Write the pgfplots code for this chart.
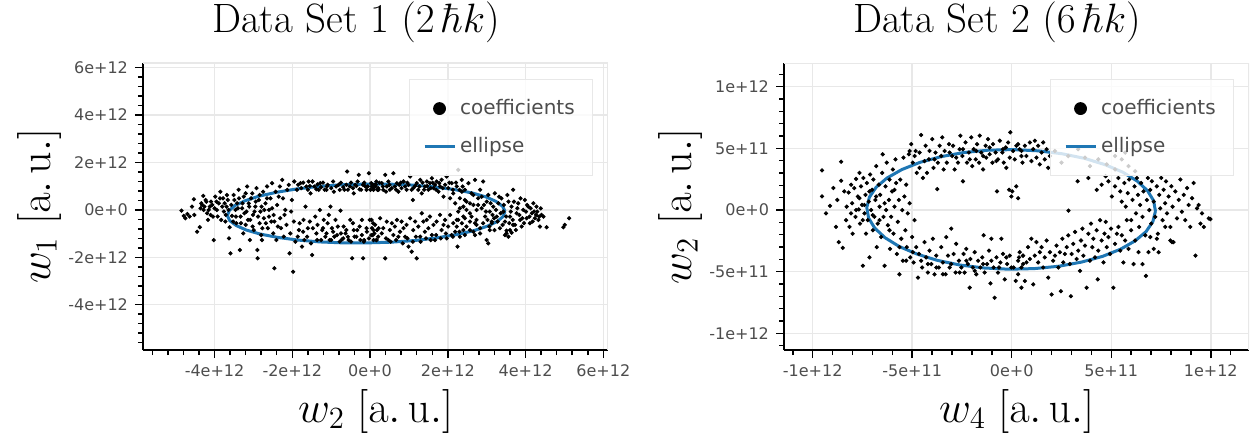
\documentclass[border=0pt]{standalone}
\usepackage{fix-cm}
\usepackage[no-math]{fontspec}
\usepackage{pgfplots}
\pgfplotsset{compat=1.18}
\newfontfamily\dejavu{DejaVu Sans}
\definecolor{ellblue}{RGB}{31,119,180}
\definecolor{tickgray}{RGB}{77,77,77}
\definecolor{gridgray}{RGB}{232,232,232}

\pgfplotsset{
  panel/.style={
    scale only axis, width=232.5pt, height=143.5pt,
    axis x line*=bottom, axis y line*=left,
    axis line style={line width=0.75pt, black},
    tick align=outside,
    major tick length=4pt, minor tick length=2.5pt,
    every tick/.append style={black, line width=0.75pt},
    grid=major, major grid style={gridgray, line width=0.75pt},
    ticklabel style={font=\dejavu\fontsize{8}{9.6}\selectfont, text=tickgray},
    every axis title shift=0pt,
    title style={font=\fontsize{20.5}{24}\selectfont, at={(0.458,1.108)}, anchor=base},
    xlabel style={font=\fontsize{22}{26}\selectfont, at={(axis description cs:0.5,-0.251)}, anchor=base},
    ylabel style={font=\fontsize{22}{26}\selectfont, at={(axis description cs:-0.2,0.5)}, anchor=base},
    legend cell align=left,
    legend style={at={(0.968,0.944)}, anchor=north east, draw=gridgray,
      fill=white, fill opacity=0.8, text opacity=1,
      font=\dejavu\fontsize{10}{12}\selectfont, text=tickgray,
      inner xsep=7pt, inner ysep=8pt, row sep=6pt},
  },
  pts/.style={only marks, mark=*, mark size=0.85pt, black,
    legend image code/.code={\fill[black, fill opacity=1] (7.5pt,0pt) circle (3pt);}},
  ell/.style={no markers, ellblue, line width=1.5pt, line join=round,
    legend image code/.code={\draw[ellblue, draw opacity=1, line width=1.5pt] (0pt,0pt) -- (15pt,0pt);}},
}

\begin{document}
\begin{tikzpicture}
\useasboundingbox (-71.5pt,-43pt) rectangle (558.5pt,175pt);

% ---- Data Set 1 ----
\begin{axis}[panel,
  at={(0pt,0pt)}, anchor=south west,
  xmin=-5.84, xmax=6.12, ymin=-5.91, ymax=6.20,
  xtick={-4,-2,0,2,4,6}, xticklabels={-4e+12,-2e+12,0e+0,2e+12,4e+12,6e+12},
  ytick={-4,-2,0,2,4,6}, yticklabels={-4e+12,-2e+12,0e+0,2e+12,4e+12,6e+12},
  minor xtick={-5.6,-5.2,...,6.0}, minor ytick={-5.6,-5.2,...,6.0},
  title={Data Set 1 $(2\,\hbar k)$},
  xlabel={$w_2\;[\mathrm{a.\,u.}]$},
  ylabel={$w_1\;[\mathrm{a.\,u.}]$},
]
\addplot[pts] coordinates {
(-4.85,-0.03) (-4.79,-0.25) (-4.75,-0.35) (-4.70,-0.17) (-4.64,-0.28) (-4.58,0.14) (-4.52,-0.21) (-4.53,0.45)
(-4.45,-0.92) (-4.38,-0.73) (-4.36,0.07) (-4.32,0.21) (-4.29,0.59) (-4.28,0) (-4.23,0.42) (-4.19,-0.14)
(-4.17,-0.42) (-4.12,0.14) (-4.09,0.35) (-4.04,-0.28) (-4.02,-1.27) (-3.98,0.56) (-3.94,0) (-3.89,0.28)
(-3.85,0.77) (-3.83,-0.42) (-3.78,0.49) (-3.76,-0.07) (-3.72,-0.49) (-3.69,0.14) (-3.66,0.42) (-3.63,-1.20)
(-3.59,-1.83) (-3.61,-0.73) (-3.55,-0.25) (-3.51,0.63) (-3.46,0) (-3.44,-0.56) (-3.42,0.28) (-3.38,0.85)
(-3.35,-1.69) (-3.33,-0.28) (-3.29,0.07) (-3.26,-0.99) (-3.25,0.56) (-3.20,-0.63) (-3.18,-0.07) (-3.16,0.99)
(-3.12,0.28) (-3.09,-1.27) (-3.08,-0.42) (-3.03,0.70) (-3.01,-0.21) (-2.99,-0.85) (-2.95,0.14) (-2.92,0.92)
(-2.90,-1.69) (-2.89,-2.04) (-2.86,0.42) (-2.84,-0.56) (-2.82,-0.07) (-2.80,-1.06) (-2.78,-1.27) (-2.75,0.77)
(-2.73,-0.35) (-2.69,0.28) (-2.65,0.99) (-2.63,-0.77) (-2.60,0) (-2.56,0.49) (-2.54,-0.49) (-2.52,1.13)
(-2.49,-0.99) (-2.48,-0.21) (-2.43,0.77) (-2.41,-1.27) (-2.39,0.21) (-2.37,-0.70) (-2.32,0.99) (-2.31,-0.35)
(-2.26,1.27) (-2.24,0.49) (-2.22,-1.13) (-2.18,0) (-2.15,-0.63) (-2.13,0.85) (-2.09,1.06) (-2.07,-1.83)
(-2.05,-0.99) (-2.03,-0.07) (-2.01,0.42) (-1.98,-2.61) (-1.96,-0.49) (-1.95,1.20) (-1.92,-1.34) (-1.88,0.85)
(-1.83,-0.85) (-1.79,1.13) (-1.75,-1.55) (-1.71,-0.42) (-1.66,0.14) (-1.64,0.99) (-1.62,-1.13) (-1.58,1.20)
(-1.53,0.70) (-1.49,-1.90) (-1.47,-0.77) (-1.43,0.99) (-1.41,-0.28) (-1.36,-1.27) (-1.32,0.85) (-1.29,0)
(-1.28,1.13) (-1.23,-0.85) (-1.19,-0.42) (-1.17,0.85) (-1.15,-1.13) (-1.11,0.99) (-1.06,-0.21) (-1.04,-1.27)
(-1.02,0.14) (-0.98,-0.77) (-0.93,0.77) (-0.89,-0.42) (-0.85,-1.06) (-0.81,1.06) (-0.76,-0.03) (-0.72,-1.24)
(-0.68,-0.70) (-0.66,0.85) (-0.63,-0.99) (-0.59,1.62) (-0.55,-1.27) (-0.52,0.99) (-0.51,-0.42) (-0.46,-2.04)
(-0.44,-0.56) (-0.42,0.70) (-0.40,-1.13) (-0.38,1.06) (-0.33,-0.85) (-0.29,1.48) (-0.25,-1.27) (-0.23,0.85)
(-0.21,-0.42) (-0.18,-2.04) (-0.16,-1.34) (-0.12,0.99) (-0.08,-0.92) (-0.03,1.55) (-0.01,-0.42) (0.01,0.85)
(0.05,-0.77) (0.09,-1.27) (0.14,0.99) (0.18,-0.85) (0.22,0.85) (-2.46,-2.46)
(0.04,0.99) (0.09,0.85) (0.15,1.06) (0.21,0.92) (0.30,1.13) (0.34,0.85) (0.39,1.48) (0.43,0.99)
(0.47,1.20) (0.51,0.85) (0.60,1.55) (0.64,0.99) (0.69,1.13) (0.73,0.77) (0.81,0.92) (0.86,1.20)
(0.94,0.85) (0.99,1.06) (1.03,1.41) (1.10,0.42) (1.11,0.92) (1.20,1.13) (1.24,0.85) (1.29,1.27)
(1.33,0.70) (1.41,0.99) (1.46,1.20) (1.50,0.85) (1.54,1.13) (1.59,1.34) (1.63,0.92) (1.67,1.06)
(1.71,1.20) (1.76,0.77) (1.80,0.99) (1.84,1.27) (1.89,0.56) (1.97,1.41) (2.01,0.92) (2.06,0.49)
(2.10,1.13) (2.14,0.70) (2.19,0.28) (2.23,0.99) (2.27,1.69) (2.31,0.49) (2.36,1.27) (2.40,0.14)
(2.44,0.85) (2.48,0.35) (2.53,1.13) (2.57,-0.14) (2.61,0.70) (2.66,0.21) (2.70,1.27) (2.74,-0.42)
(2.78,0.49) (2.83,0.85) (2.87,0.07) (2.91,1.20) (2.96,-0.28) (3.00,0.35) (3.04,0.63) (3.08,-0.07)
(3.13,-0.56) (3.17,0.14) (3.21,0.70) (3.26,-0.28) (3.30,0.28) (3.34,-0.77) (3.38,0.49) (3.43,-0.07)
(3.47,-0.49) (3.51,-0.99) (3.56,0.35) (3.60,-0.28) (3.64,0.14) (3.68,0.85) (3.73,-0.63) (3.77,-0.14)
(3.81,0.28) (3.86,-0.42) (3.90,-0.70) (3.94,0) (3.98,0.42) (4.03,-0.35) (4.07,0.14) (4.11,-0.56)
(4.16,-0.14) (4.20,0.28) (4.24,-0.35) (4.28,0.14) (4.33,-0.42) (4.37,-0.70) (4.41,-0.21) (4.46,-0.28)
(4.54,-0.73) (4.97,-0.73) (5.01,-0.63) (5.12,-0.35)
(0.04,-0.42) (0.09,-0.85) (0.13,-0.63) (0.21,-1.13) (0.26,-0.35) (0.34,-0.77) (0.39,-2.04) (0.43,-0.49)
(0.47,-1.27) (0.51,-0.85) (0.56,-0.56) (0.60,-1.06) (0.64,-0.70) (0.69,-0.42) (0.77,-0.92) (0.81,-0.49)
(0.86,-0.77) (0.90,-1.13) (0.94,-0.63) (0.99,-1.55) (1.03,-0.35) (1.07,-1.76) (1.11,-0.85) (1.16,-0.49)
(1.20,-2.04) (1.24,-0.70) (1.29,-1.13) (1.33,-0.14) (1.37,-0.49) (1.41,-0.92) (1.46,-0.42) (1.50,-0.77)
(1.54,-0.28) (1.59,-1.06) (1.63,-0.63) (1.67,-1.27) (1.71,-0.49) (1.80,-0.21) (1.84,-0.85) (1.89,-0.63)
(1.93,-0.42) (1.97,-1.20) (2.01,-0.70) (2.06,-0.21) (2.10,-1.06) (2.14,-0.56) (2.19,-0.92) (2.23,-0.42)
(2.25,-1.55) (2.27,-0.07) (2.31,-1.13) (2.36,-0.56) (2.40,-0.85) (2.44,-0.35) (2.48,-0.70) (2.57,-0.49)
(2.66,-0.92) (2.74,-0.63) (2.83,-0.99) (2.91,-0.56) (3.00,-1.27) (3.04,-1.41) (3.08,-0.85) (3.13,-0.49)
(3.19,-0.35) (3.47,-1.06) (3.51,-0.87) (3.56,-1.13) (3.60,-0.85) (3.64,-0.96) (3.68,-0.63)
(2.87,0.56) (2.93,0.21) (2.98,-0.07) (3.02,-0.42) (3.07,-0.70) (3.10,0.28) (3.15,-0.21) (3.20,-0.85)
(3.24,0) (3.28,-0.49) (3.32,0.56) (3.36,-0.14) (3.41,-0.63) (3.44,0.21) (3.50,-0.28) (3.53,0.63)
(3.58,-0.56) (3.62,-0.07) (3.67,-0.42) (3.70,0.35) (3.75,-0.85) (3.79,0.07) (3.84,-0.21) (3.87,0.49)
(3.92,-0.35) (3.96,-0.56) (4.01,-0.07) (4.04,0.21) (4.10,-0.28) (4.13,0.07) (4.18,-0.49) (4.22,-0.07)
(4.27,-0.21) (4.30,-0.07) (4.35,-0.28) (4.39,0.07) (2.57,0.28) (2.61,-0.28) (2.66,0.63) (2.70,-0.56)
(2.74,0) (2.78,0.21) (2.48,0) (2.44,0.42) (2.40,-0.28) (2.36,0.77) (2.31,0.07) (2.27,-0.42) (2.23,-0.70)
(-4.34,0.28) (-4.26,0.14) (-4.21,0.35) (-4.15,0) (-4.10,-0.21) (-4.06,0.21) (-4.00,0.07) (-3.95,0.35)
(-3.92,-0.28) (-3.86,0.49) (-3.80,0.14) (-3.74,0.28) (-3.71,-0.21) (-3.68,0.63) (-3.64,0) (-3.57,0.21)
(-3.52,-0.49) (-3.49,0.42) (-3.45,-0.28) (-3.40,0.07) (-3.37,0.49) (-3.32,-0.56) (-3.28,0.28) (-3.23,-0.14)
(-3.20,0.70) (-3.14,-0.42) (-3.11,0.14) (-3.06,0.49) (-3.02,-0.70) (-2.97,-0.07) (-2.94,0.35) (-2.88,-0.28)
(-2.84,0.63) (-2.79,0.14) (-2.77,-0.77) (-2.72,0) (-2.68,-0.56) (-2.65,0.49) (-2.60,-0.28) (-2.52,0.07)
(-2.46,-0.49) (-2.35,0.56) (-2.29,-0.77) (-2.20,-0.21)
(-1.85,1.06) (-1.77,0.92) (-1.72,1.15) (-1.60,0.85) (-1.55,1.01) (-1.48,1.20) (-1.38,0.87) (-1.35,1.08)
(-1.26,0.96) (-1.21,1.15) (-1.12,0.85) (-1.09,1.06) (-1.00,0.92) (-0.95,1.20) (-0.87,0.99) (-0.78,0.85)
(-0.75,1.15) (-0.69,0.96) (-0.61,1.06) (-0.57,0.85) (-0.49,1.15) (-0.44,0.92) (-0.35,1.01) (-0.32,1.20)
(-0.27,0.87) (-0.18,1.06) (-0.15,1.15) (-0.09,0.85) (-0.06,0.99) (0.03,1.13) (0.08,0.92) (0.11,1.06)
(0.16,1.20) (0.20,0.87)
(0.07,1.06) (0.19,0.85) (0.24,1.15) (0.33,0.99) (0.41,0.77) (0.50,1.06) (0.56,0.92) (0.67,0.85)
(0.75,1.06) (0.79,1.15) (0.90,0.99) (0.96,1.15) (1.07,0.85) (1.16,1.01) (1.27,0.99) (1.35,1.15)
(1.39,0.85) (1.47,1.01) (1.56,0.92) (1.61,1.15) (1.70,0.85) (1.78,1.13) (1.87,0.92) (1.93,1.06)
(2.04,1.15) (2.13,0.85) (2.21,1.15) (2.30,0.85) (2.38,0.99)
(-1.86,-1.13) (-1.81,-0.56) (-1.72,-0.92) (-1.69,-1.27) (-1.60,-0.77) (-1.55,-0.49) (-1.52,-1.41) (-1.38,-0.99)
(-1.35,-0.63) (-1.26,-1.27) (-1.21,-0.77) (-1.12,-0.99) (-1.09,-0.56) (-1.00,-1.27) (-0.95,-0.92) (-0.92,-1.13)
(-0.83,-0.70) (-0.78,-1.34) (-0.75,-0.99) (-0.69,-1.20) (-0.61,-0.85) (-0.57,-1.13) (-0.49,-1.34) (-0.42,-0.85)
(-0.35,-1.13) (-0.27,-0.70) (-0.21,-1.06) (-0.15,-1.27) (-0.09,-0.77) (-0.03,-1.20) (0.03,-1.06) (0.08,-0.56)
(0.11,-0.99) (0.16,-1.27) (0.22,-0.77)
(0.07,-1.06) (0.17,-1.27) (0.30,-0.99) (0.41,-1.20) (0.53,-1.34) (0.67,-1.27) (0.73,-1.13) (0.84,-1.41)
(0.96,-1.20) (1.10,-1.34) (1.18,-1.13) (1.30,-1.34) (1.44,-1.20) (1.56,-1.27) (1.70,-1.06) (1.82,-1.20)
(1.95,-0.99) (2.13,-1.13) (2.30,-0.92) (2.44,-1.06) (2.57,-0.85) (2.70,-1.06) (2.83,-0.77)
};
\addlegendentry{coefficients}
\addplot[ell] coordinates {
(3.47,-0.06) (3.41,0.15) (3.24,0.36) (2.98,0.55) (2.62,0.72) (2.17,0.86) (1.66,0.97) (1.09,1.05)
(0.49,1.09) (-0.13,1.09) (-0.75,1.06) (-1.35,0.99) (-1.91,0.88) (-2.42,0.74) (-2.86,0.58) (-3.21,0.39)
(-3.47,0.19) (-3.62,-0.02) (-3.67,-0.24) (-3.61,-0.45) (-3.44,-0.66) (-3.18,-0.85) (-2.82,-1.02) (-2.37,-1.16)
(-1.86,-1.27) (-1.29,-1.35) (-0.69,-1.39) (-0.07,-1.39) (0.55,-1.36) (1.15,-1.29) (1.71,-1.18) (2.22,-1.04)
(2.66,-0.88) (3.01,-0.69) (3.27,-0.49) (3.42,-0.28) (3.47,-0.06)
};
\addlegendentry{ellipse}
\draw[gridgray, line width=0.75pt] (rel axis cs:0,1) -- (rel axis cs:1,1) -- (rel axis cs:1,0);
\end{axis}

% ---- Data Set 2 ----
\begin{axis}[panel,
  at={(320.5pt,0pt)}, anchor=south west,
  xmin=-11.44, xmax=11.92, ymin=-11.35, ymax=11.92,
  xtick={-10,-5,0,5,10}, xticklabels={-1e+12,-5e+11,0e+0,5e+11,1e+12},
  ytick={-10,-5,0,5,10}, yticklabels={-1e+12,-5e+11,0e+0,5e+11,1e+12},
  minor xtick={-11,-10,...,11}, minor ytick={-11,-10,...,11},
  title={Data Set 2 $(6\,\hbar k)$},
  xlabel={$w_4\;[\mathrm{a.\,u.}]$},
  ylabel={$w_2\;[\mathrm{a.\,u.}]$},
]
\addplot[pts] coordinates {
(-9.53,3.21) (-9.53,1.10) (-9.33,-0.27) (-9.13,0.33) (-8.96,1.78) (-8.83,-1.37) (-8.76,0.82) (-8.69,-2.60)
(-8.57,3.92) (-8.57,2.38) (-8.49,-3.07) (-8.41,1.51) (-8.32,-0.82) (-8.29,0.27) (-8.19,1.42) (-8.15,-1.37)
(-8.07,2.05) (-8.02,0.55) (-7.99,-1.92) (-7.91,1.78) (-7.85,-0.55) (-7.82,2.52) (-7.73,1.10) (-7.68,0.05)
(-7.65,3.01) (-7.62,-1.10) (-7.57,1.92) (-7.52,0.41) (-7.48,-4.52) (-7.45,2.60) (-7.40,-0.27) (-7.35,1.23)
(-7.32,-1.92) (-7.28,2.19) (-7.23,-0.82) (-7.18,0.68) (-7.15,-3.84) (-7.11,2.88) (-7.06,0) (-7.01,1.64)
(-6.98,-1.64) (-6.95,2.47) (-6.90,-0.55) (-6.85,0.82) (-6.81,3.56) (-6.78,-3.01) (-6.73,-1.10) (-6.68,2.05)
(-6.64,0.27) (-6.61,1.23) (-6.56,-2.19) (-6.51,3.01) (-6.48,4.52) (-6.44,-0.55) (-6.39,-4.52) (-6.34,1.92)
(-6.31,0) (-6.28,3.84) (-6.22,-1.23) (-6.17,0.82) (-6.14,2.47) (-6.11,-3.15) (-6.06,-0.55) (-6.01,1.51)
(-5.97,3.29) (-5.94,-1.92) (-5.89,0.27) (-5.84,4.11) (-5.81,2.19) (-5.77,-3.56) (-5.72,-0.96) (-5.67,0.82)
(-5.64,-5.21) (-5.60,2.47) (-5.55,-2.33) (-5.50,0) (-5.47,-4.11) (-5.44,4.25) (-5.39,1.10) (-5.34,-1.64)
(-5.30,2.05) (-5.27,-3.01) (-5.22,-0.27) (-5.17,4.52) (-5.13,0.55) (-5.10,-3.84) (-5.05,5.34) (-5.00,-2.19)
(-4.97,3.84) (-4.93,-4.25) (-4.88,-0.82) (-4.83,4.79) (-4.80,-3.01) (-4.77,3.01) (-4.71,-5.48) (-4.66,-3.56)
(-4.63,3.42) (-4.55,6.08) (-4.50,-4.66) (-4.46,2.60) (-4.38,-2.60) (-4.33,5.21) (-4.30,-3.84) (-4.26,3.01)
(-4.21,-5.07) (-4.16,4.11) (-4.13,-3.29) (-4.04,-4.38) (-3.99,5.75) (-3.96,-2.33) (-3.93,3.42) (-3.88,-5.21)
(-3.83,4.66) (-3.79,-3.70) (-3.74,1.70) (-3.71,3.84) (-3.66,-4.66) (-3.62,5.21) (-3.54,-3.01) (-3.49,5.89)
(-3.46,-4.25) (-3.42,3.29) (-3.37,4.79) (-3.32,-5.21) (-3.29,-2.19) (-3.26,3.84) (-3.20,-3.70) (-3.15,5.34)
(-3.12,-4.66) (-3.04,-1.51) (-2.99,4.38) (-2.95,5.21) (-2.92,-3.56) (-2.87,3.29) (-2.82,-5.07) (-2.79,-2.74)
(-2.70,3.84) (-2.65,-4.11) (-2.62,4.93) (-2.58,6.03) (-2.53,-4.66) (-2.48,4.38) (-2.45,2.33) (-2.42,-3.56)
(-2.37,-5.07) (-2.32,5.48) (-2.28,-3.15) (-2.25,3.84) (-2.20,-4.38) (-2.15,4.66) (-2.11,-6.30) (-2.08,-3.97)
(-2.03,5.89) (-1.98,3.56) (-1.95,-4.66) (-1.91,4.93) (-1.86,-3.42) (-1.81,4.11) (-1.78,-5.21) (-1.74,5.34)
(-1.69,-4.11) (-1.64,3.84) (-1.61,6.03) (-1.58,-4.66) (-1.53,4.66) (-1.48,-3.84) (-1.44,3.29) (-1.41,-2.05)
(-1.36,-5.07) (-1.31,5.21) (-1.28,4.25) (-1.24,-4.38) (-1.19,5.75) (-1.14,-3.29) (-1.11,4.52) (-1.07,-5.95)
(-1.02,-2.33) (-0.97,3.84) (-0.94,5.34) (-0.91,-4.66) (-0.86,-7.12) (-0.81,4.66) (-0.77,-3.84) (-0.74,1.51)
(-0.69,4.11) (-0.64,-4.66) (-0.60,5.62) (-0.57,-4.25) (-0.52,-2.33) (-0.47,4.66) (-0.44,-3.56) (-0.40,3.84)
(-0.35,-5.62) (-0.30,5.07) (-0.27,3.42) (-0.23,-4.38) (-0.18,5.48) (-0.13,1.64) (-0.10,-3.70) (-0.07,6.30)
(-0.02,1.10) (0.03,1.51) (0.07,4.79) (0.10,-4.66) (0.15,4.11) (0.20,-5.75) (0.23,1.92) (0.32,0.96)
(0.37,-3.84) (0.40,4.93) (0.49,-6.30) (0.54,3.84) (0.57,-4.38)
(-5.13,4.79) (-4.88,4.38) (-4.63,4.66) (-4.38,3.97) (-4.13,4.79) (-3.88,4.11) (-3.54,4.38) (-3.12,4.66)
(-2.79,4.25) (-2.45,4.93) (-2.11,4.11) (-1.78,4.79) (-1.44,4.38) (-1.11,5.07) (-0.77,3.97) (-0.44,4.93)
(-0.10,4.25) (0.23,5.21) (0.49,4.38)
(-5.64,-3.01) (-5.30,-4.11) (-4.97,-3.42) (-4.55,-4.11) (-4.21,-4.38) (-3.79,-4.66) (-3.46,-5.21) (-3.04,-4.38)
(-2.62,-5.07) (-2.28,-4.11) (-1.86,-4.93) (-1.44,-4.38) (-1.02,-4.11) (-0.69,-5.07) (-0.27,-3.84) (-0.02,-4.66)
(0.32,-5.21) (0.57,-3.70)
(-7.65,0.96) (-7.40,0.41) (-7.15,1.51) (-6.98,-0.41) (-6.81,1.10) (-6.64,-0.82) (-6.39,0.55) (-6.14,-1.64)
(-5.89,1.64) (-7.82,0) (-8.07,-0.27) (-7.48,-0.82)
(0.32,5.34) (0.49,4.79) (0.66,5.21) (0.74,4.38) (0.91,5.48) (0.99,3.97) (1.08,4.93) (1.16,5.62)
(1.24,4.25) (1.33,5.21) (1.41,3.70) (1.50,4.66) (1.58,5.48) (1.66,4.11) (1.75,4.93) (1.83,3.42)
(1.92,4.38) (2.17,4.79) (2.50,3.84) (2.84,4.38) (3.34,4.93) (3.68,4.25) (3.93,3.56) (4.35,4.11)
(4.77,3.70) (5.19,3.29) (5.53,4.11) (5.87,3.56) (6.20,3.15) (5.19,4.38) (5.70,4.66)
(3.31,2.33) (3.85,2.60) (4.27,1.64) (4.52,2.05) (4.72,2.74) (4.86,2.33) (5.03,1.10) (5.19,1.92)
(5.36,2.60) (5.45,1.51) (5.53,0.68) (5.66,2.19) (5.73,0.27) (5.83,1.37) (5.90,2.47) (6.00,-0.82)
(6.07,0.82) (6.17,1.92) (6.24,-0.27) (6.29,2.60) (6.34,1.23) (6.40,-1.37) (6.45,0.41) (6.50,2.19)
(6.57,-0.55) (6.62,1.51) (6.71,-2.05) (6.79,0.82) (6.84,2.60) (6.91,0) (6.96,1.64) (7.01,-1.10)
(7.04,2.33) (7.13,0.68) (7.21,-0.55) (7.29,1.92) (7.34,-1.92) (7.41,1.23) (7.46,0.14) (7.51,2.60)
(7.58,-0.82) (7.63,1.64) (7.71,0.55) (7.75,2.33) (7.80,-0.27) (7.88,1.10) (7.97,-1.37) (8.02,1.92)
(8.08,0.27) (8.13,-2.60) (8.22,1.51) (8.30,-0.68) (8.39,0.82) (8.47,2.47) (8.55,-0.14) (8.64,1.23)
(8.72,-0.82) (8.81,1.78) (8.89,0.41) (8.97,-1.37) (9.06,0.96) (9.14,2.19) (9.23,-3.70) (9.31,0.14)
(9.39,0.41) (9.48,-1.10) (9.56,-0.27) (9.65,-1.37) (9.90,-0.68) (9.98,-0.74) (2.85,-0.05)
(0.32,-4.11) (0.40,-3.42) (0.49,-4.66) (0.57,-3.70) (0.66,-5.75) (0.74,-4.25) (0.82,-3.01) (0.91,-3.97)
(0.99,-2.33) (1.08,-6.03) (1.16,-3.70) (1.24,-2.60) (1.33,-4.25) (1.41,-3.42) (1.50,-3.01) (1.58,-4.66)
(1.66,-3.84) (1.75,-2.47) (1.83,-5.48) (1.92,-3.42) (2.00,-6.85) (2.08,-4.11) (2.17,-3.70) (2.25,-2.88)
(2.34,-4.66) (2.42,-3.42) (2.47,-6.58) (2.54,-2.33) (2.59,-4.25) (2.67,-3.56) (2.76,-3.01) (2.84,-2.05)
(2.92,-4.38) (2.97,-6.99) (3.01,-3.56) (3.09,-2.74) (3.18,-1.78) (3.26,-3.97) (3.34,-3.29) (3.43,-4.93)
(3.48,-2.47) (3.55,-1.51) (3.60,-3.70) (3.68,-2.88) (3.76,-6.30) (3.85,-1.92) (3.93,-4.11) (3.98,-1.10)
(4.05,-3.01) (4.10,-2.33) (4.18,-3.84) (4.27,-1.64) (4.32,-5.62) (4.35,-3.29) (4.44,-0.82) (4.52,-2.47)
(4.61,-4.25) (4.66,-1.92) (4.72,-0.96) (4.77,-3.01) (4.86,-2.19) (4.94,-3.56) (4.99,-1.51) (5.11,-6.30)
(5.19,-2.74) (5.28,-1.92) (5.36,-1.37) (5.45,-3.29) (5.53,-2.05) (5.61,-4.25) (5.70,-2.47) (5.78,-0.82)
(5.87,-3.15) (6.00,-1.64) (6.12,-4.38) (6.20,-2.47) (6.37,-3.42) (6.57,-4.38) (6.74,-5.34) (6.87,-3.42)
(6.96,-2.19) (7.13,-3.15) (7.29,-2.33) (7.38,-3.42) (7.71,-1.37) (7.97,-2.47) (8.05,-2.60)
};
\addlegendentry{coefficients}
\addplot[ell] coordinates {
(7.22,-0.10) (7.13,0.75) (6.82,1.57) (6.30,2.35) (5.59,3.06) (4.70,3.67) (3.68,4.18) (2.54,4.56)
(1.32,4.80) (0.07,4.90) (-1.19,4.85) (-2.42,4.66) (-3.57,4.32) (-4.62,3.86) (-5.52,3.28) (-6.26,2.60)
(-6.81,1.85) (-7.15,1.04) (-7.28,0.20) (-7.19,-0.65) (-6.88,-1.47) (-6.36,-2.25) (-5.65,-2.96) (-4.76,-3.57)
(-3.74,-4.08) (-2.60,-4.46) (-1.39,-4.70) (-0.13,-4.80) (1.13,-4.75) (2.36,-4.56) (3.51,-4.22) (4.56,-3.76)
(5.46,-3.18) (6.20,-2.50) (6.75,-1.75) (7.09,-0.94) (7.22,-0.10)
};
\addlegendentry{ellipse}
\draw[gridgray, line width=0.75pt] (rel axis cs:0,1) -- (rel axis cs:1,1) -- (rel axis cs:1,0);
\end{axis}
\end{tikzpicture}
\end{document}
